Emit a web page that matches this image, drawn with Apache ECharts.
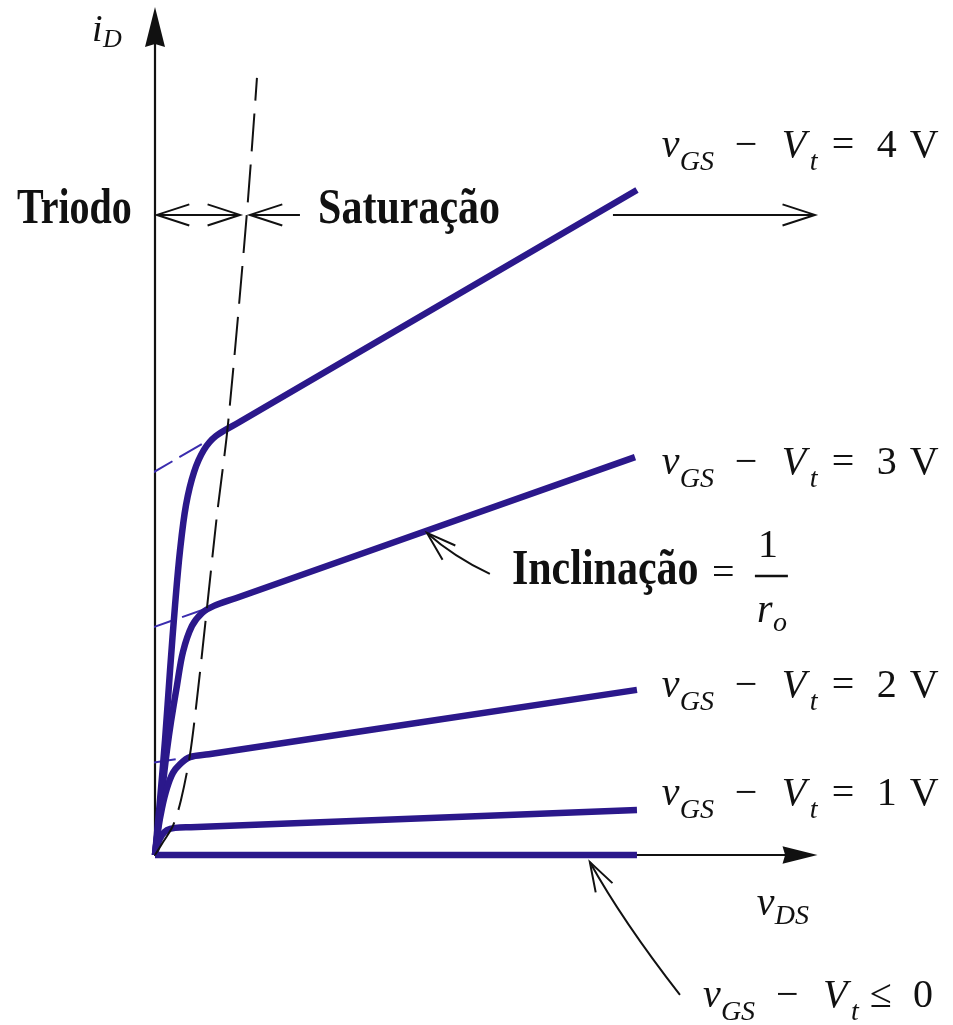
<!DOCTYPE html>
<html>
<head>
<meta charset="utf-8">
<title>Características i_D × v_DS do MOSFET</title>
<script src="https://cdn.jsdelivr.net/npm/echarts@6/dist/echarts.min.js"></script>
<style>
  html, body { margin: 0; padding: 0; background: #ffffff; }
  #chart { width: 953px; height: 1025px; }
</style>
</head>
<body>
<div id="chart"></div>
<script>
// Output characteristics of an n-channel MOSFET: i_D versus v_DS
// for several overdrive voltages (v_GS - V_t). Units are arbitrary.

// ---- data -------------------------------------------------------------
const overdriveLevels = ['4', '3', '2', '1'];

const curve4V = [[0, 0], [0.28, 2.29], [0.56, 4.79], [0.84, 7.71], [1.12, 10.42], [1.40, 12.71],
  [1.73, 14.58], [2.18, 15.96], [2.73, 16.88], [3.40, 17.46], [4.74, 18.05], [26.90, 27.71]];
const curve3V = [[0, 0], [0.22, 1.46], [0.45, 3.00], [0.67, 4.38], [0.89, 5.54], [1.23, 7.08],
  [1.56, 8.46], [2.06, 9.54], [2.62, 10.08], [3.29, 10.38], [4.50, 10.70], [26.79, 16.58]];
const curve2V = [[0, 0], [0.17, 1.04], [0.39, 1.96], [0.67, 2.79], [1.00, 3.42], [1.40, 3.79],
  [1.95, 4.08], [3.00, 4.20], [26.90, 6.88]];
const curve1V = [[0, 0], [0.17, 0.50], [0.39, 0.83], [0.67, 1.04], [1.12, 1.13], [2.00, 1.16], [26.90, 1.88]];
const curveCutoff = [[0, 0], [26.90, 0]];

// saturation lines extended back to the i_D axis (finite output resistance r_o)
const extension4V = [[-0.28, 15.86], [3.00, 17.29]];
const extension3V = [[-0.28, 9.44], [2.80, 10.25]];
const extension2V = [[-0.28, 3.83], [1.50, 4.03]];

// boundary between triode and saturation regions (v_DS = v_GS - V_t)
const boundary = [[0, 0], [0.45, 0.54], [1.00, 1.21], [1.45, 2.29], [1.95, 4.17], [2.40, 6.88],
  [2.90, 10.29], [3.46, 14.17], [4.07, 17.92], [5.13, 26.75], [5.69, 32.38]];

// ---- styling ----------------------------------------------------------
const CURVE = '#2b188b';
const INK = '#111111';
const SERIF = '"Liberation Serif", "Times New Roman", Times, serif';

const chart = echarts.init(document.getElementById('chart'), null, { renderer: 'canvas' });

const arrowPath = 'path://M10,0 L20,40 L10,37 L0,40 Z';

function axisStyle(max, size) {
  return {
    type: 'value', min: 0, max: max,
    axisLine: {
      show: true, onZero: false,
      symbol: ['none', arrowPath], symbolSize: size,
      lineStyle: { color: INK, width: 2.2 }
    },
    axisTick: { show: false }, axisLabel: { show: false }, splitLine: { show: false }
  };
}

function thickCurve(name, data) {
  return {
    name, type: 'line', data, smooth: 0.35, symbol: 'none', clip: false,
    lineStyle: { color: CURVE, width: 6.5, cap: 'butt', join: 'round' }, z: 3, silent: true
  };
}
function thinExtension(data) {
  return {
    type: 'line', data, symbol: 'none', clip: false,
    lineStyle: { color: '#3a2cae', width: 2, type: [26, 8] }, z: 2, silent: true
  };
}

chart.setOption({
  animation: false,
  backgroundColor: '#ffffff',
  grid: { left: 155, top: 27, right: 153, bottom: 170 },
  xAxis: axisStyle(36, [22, 35]),
  yAxis: axisStyle(34.5, [20, 40]),
  series: [
    thickCurve(overdriveLevels[0] + ' V', curve4V),
    thickCurve(overdriveLevels[1] + ' V', curve3V),
    thickCurve(overdriveLevels[2] + ' V', curve2V),
    thickCurve(overdriveLevels[3] + ' V', curve1V),
    thickCurve('corte', curveCutoff),
    thinExtension(extension4V),
    thinExtension(extension3V),
    thinExtension(extension2V),
    {
      type: 'line', data: boundary, smooth: 0.3, symbol: 'none', clip: false,
      lineStyle: { color: INK, width: 2, type: [38, 13] }, z: 5, silent: true
    }
  ]
});

// ---- annotations (anchored in data coordinates) -----------------------
const toPx = p => chart.convertToPixel({ gridIndex: 0 }, p);
const els = [];

function text(x, baseline, s, size, o) {
  o = o || {};
  const font = (o.italic ? 'italic ' : '') + (o.bold ? 'bold ' : '') + size + 'px ' + SERIF;
  els.push({
    type: 'text', x: x, y: baseline - 0.34 * size, scaleX: o.scaleX || 1, silent: true, z: 20,
    style: {
      text: s, font: font, fill: INK,
      align: 'left', verticalAlign: 'middle', textAlign: 'left', textVerticalAlign: 'middle'
    }
  });
}
function line(points, w) {
  els.push({
    type: 'polyline', silent: true, z: 20,
    shape: { points: points },
    style: { stroke: INK, lineWidth: w || 2, fill: null, lineJoin: 'miter' }
  });
}
function head(tip, from, len, spreadDeg) {
  const dx = from[0] - tip[0], dy = from[1] - tip[1];
  const d = Math.hypot(dx, dy), ux = dx / d, uy = dy / d;
  const a = spreadDeg * Math.PI / 180;
  const rot = (s) => [tip[0] + len * (ux * Math.cos(s) - uy * Math.sin(s)),
                      tip[1] + len * (ux * Math.sin(s) + uy * Math.cos(s))];
  line([rot(a), tip, rot(-a)], 2);
}
function curvedArrow(tail, ctrl, tip) {
  const t = toPx(tail), c = toPx(ctrl), p = toPx(tip);
  els.push({
    type: 'bezierCurve', silent: true, z: 20,
    shape: { x1: t[0], y1: t[1], cpx1: c[0], cpy1: c[1], x2: p[0], y2: p[1] },
    style: { stroke: INK, lineWidth: 2, fill: null }
  });
  head(p, c, 31, 18);
}
function straightArrow(a, b, headA, headB) {
  const pa = toPx(a), pb = toPx(b);
  line([pa, pb], 2);
  if (headA) head(pa, pb, 34, 18);
  if (headB) head(pb, pa, 34, 18);
}

// region arrows: Triodo <-> | <- Saturação, and the saturation arrow on the right
const regionY = 26.67;
straightArrow([0.11, regionY], [4.74, regionY], true, true);
straightArrow([5.30, regionY], [8.09, regionY], true, false);
straightArrow([25.56, regionY], [36.83, regionY], false, true);

// pointer to the slope of the 3 V line and to the cut-off curve
curvedArrow([18.69, 11.71], [16.63, 12.45], [15.18, 13.42]);
curvedArrow([29.30, -5.83], [26.06, -2.71], [24.27, -0.29]);

// region names
let p = toPx([-7.70, 26.17]);
text(p[0], p[1], 'Triodo', 50, { bold: true, scaleX: 0.8 });
p = toPx([9.10, 26.17]);
text(p[0], p[1], 'Saturação', 50, { bold: true, scaleX: 0.84 });

// axis titles
p = toPx([-3.52, 33.79]);
text(p[0], p[1], 'i', 38, { italic: true });
text(p[0] + 11, p[1] + 5, 'D', 26, { italic: true });
p = toPx([33.59, -2.625]);
text(p[0], p[1], 'v', 40, { italic: true });
text(p[0] + 18, p[1] + 8, 'DS', 28, { italic: true });

// overdrive labels: v_GS − V_t = n V
function overdriveLabel(anchor, tail, size) {
  const q = toPx(anchor);
  const k = size / 40;
  text(q[0], q[1], 'v', size, { italic: true });
  text(q[0] + 18 * k, q[1] + 12 * k, 'GS', 28 * k, { italic: true });
  text(q[0] + 73 * k, q[1], '\u2212', size);
  text(q[0] + 120 * k, q[1], 'V', size, { italic: true });
  text(q[0] + 148 * k, q[1] + 12 * k, 't', 28 * k, { italic: true });
  tail(q, k);
}
const labelAnchors = [[28.29, 28.96], [28.29, 15.75], [28.29, 6.46], [28.29, 1.96]];
overdriveLevels.forEach((lvl, i) => {
  overdriveLabel(labelAnchors[i], (q, k) => {
    text(q[0] + 170 * k, q[1], '=', 40 * k);
    text(q[0] + 215 * k, q[1], lvl, 40 * k);
    text(q[0] + 248 * k, q[1], 'V', 40 * k);
  }, 40);
});
overdriveLabel([30.58, -6.46], (q, k) => {
  text(q[0] + 167 * k, q[1], '\u2264', 40 * k);
  text(q[0] + 210 * k, q[1], '0', 40 * k);
}, 40);

// slope label: Inclinação = 1 / r_o
p = toPx([19.92, 11.125]);
text(p[0], p[1], 'Inclinação', 50, { bold: true, scaleX: 0.84 });
text(p[0] + 200, p[1], '=', 40);
text(p[0] + 246, p[1] - 28, '1', 40);
line([[p[0] + 243, p[1] - 12], [p[0] + 276, p[1] - 12]], 2.5);
text(p[0] + 245, p[1] + 37, 'r', 40, { italic: true });
text(p[0] + 261, p[1] + 45, 'o', 28, { italic: true });

chart.setOption({ graphic: { elements: els } });
</script>
</body>
</html>
